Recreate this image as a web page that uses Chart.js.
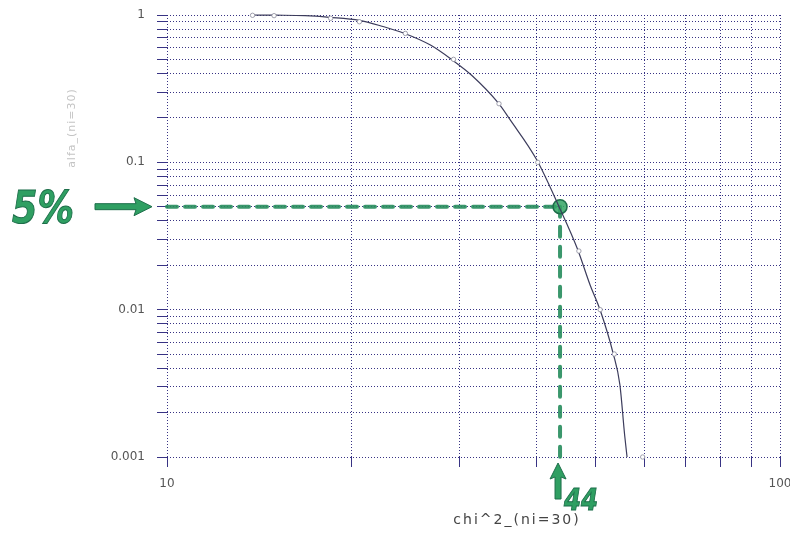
<!DOCTYPE html>
<html>
<head>
<meta charset="utf-8">
<script src="https://cdn.jsdelivr.net/npm/chart.js@4.4.1/dist/chart.umd.min.js"></script>
<style>
  html, body { margin: 0; padding: 0; background: #ffffff; }
  #wrap { width: 790px; height: 534px; }
</style>
</head>
<body>
<div id="wrap"><canvas id="c" width="790" height="534"></canvas></div>
<script>
// Upper-tail probability of chi-squared with 30 degrees of freedom (traced curve)
const curveChi   = [13.7, 15.0, 16.8, 18.4, 20.6, 22.5, 24.3, 26.9, 29.3, 31.4, 34.7, 36.3, 40.1, 43.6, 46.7, 49.0, 50.9, 53.4, 54.8, 55.8, 56.3];
const curveAlpha = [1.0, 0.997, 0.99, 0.965, 0.92, 0.835, 0.755, 0.625, 0.49, 0.39, 0.253, 0.194, 0.104, 0.05, 0.026, 0.0147, 0.0099, 0.0051, 0.0031, 0.0014, 0.001];

// Tabulated critical values (small circles)
const tableChi   = [13.79, 14.95, 18.49, 20.60, 24.48, 29.34, 34.80, 40.26, 46.98, 50.89, 53.67, 59.70];
const tableAlpha = [0.995, 0.99, 0.95, 0.90, 0.75, 0.50, 0.25, 0.10, 0.025, 0.01, 0.005, 0.001];

// Highlighted significance level and its critical value
const critAlpha = 0.05;
const critChi   = 43.77;

// Axis labels
const xTickLabels = [10, 100];
const yTickLabels = [1, 0.1, 0.01, 0.001];
const xTitle = 'chi^2_(ni=30)';
const yTitle = 'alfa_(ni=30)';

const GRID = 'rgba(45,40,125,0.95)';
const GREEN = '#2f9f62';
const GREEN_DARK = '#1d6e4a';

const pts = (xs, ys) => xs.map((v, i) => ({ x: v, y: ys[i] }));
const near = (v, list) => list.some(t => Math.abs(v - t) / t < 1e-6);

// keep only 1..9 x 10^n grid positions
const wholeDecadeSteps = (s) => {
  s.ticks = s.ticks.filter(t => {
    const e = Math.floor(Math.log10(t.value) + 1e-9);
    const m = t.value / Math.pow(10, e);
    return Math.abs(m - Math.round(m)) < 1e-6;
  });
};

// Hand-drawn style annotations outside the plot area
const annotate = {
  id: 'annotate',
  afterDraw(chart) {
    const { ctx, scales: { x, y }, chartArea } = chart;
    const py = y.getPixelForValue(critAlpha);
    const px = x.getPixelForValue(critChi);
    ctx.save();

    // "5%" and arrow towards the horizontal line
    const pct = Math.round(critAlpha * 100) + '%';
    ctx.font = 'bold italic 44px "DejaVu Sans"';
    const w5 = ctx.measureText(pct).width;
    ctx.save();
    ctx.translate(12, py + 16);
    ctx.scale(62 / w5, 1);
    ctx.fillStyle = GREEN;
    ctx.strokeStyle = GREEN_DARK;
    ctx.lineWidth = 1;
    ctx.fillText(pct, 0, 0);
    ctx.strokeText(pct, 0, 0);
    ctx.restore();

    ctx.fillStyle = GREEN;
    ctx.strokeStyle = GREEN_DARK;
    ctx.lineWidth = 1;
    ctx.beginPath();
    ctx.moveTo(95, py - 3);
    ctx.lineTo(136, py - 3);
    ctx.lineTo(134, py - 9);
    ctx.lineTo(chartArea.left - 15, py);
    ctx.lineTo(134, py + 9);
    ctx.lineTo(136, py + 3);
    ctx.lineTo(95, py + 3);
    ctx.closePath();
    ctx.fill();
    ctx.stroke();

    // upward arrow and rounded critical value
    const ax = px - 2;
    const top = chartArea.bottom + 6;
    ctx.beginPath();
    ctx.moveTo(ax - 3, 499);
    ctx.lineTo(ax - 3, top + 14);
    ctx.lineTo(ax - 8, top + 16);
    ctx.lineTo(ax, top);
    ctx.lineTo(ax + 8, top + 16);
    ctx.lineTo(ax + 3, top + 14);
    ctx.lineTo(ax + 3, 499);
    ctx.closePath();
    ctx.fill();
    ctx.stroke();

    const val = String(Math.round(critChi));
    ctx.font = 'bold italic 30px "DejaVu Sans"';
    const w44 = ctx.measureText(val).width;
    ctx.save();
    ctx.translate(ax + 6, 510);
    ctx.scale(34 / w44, 1);
    ctx.fillText(val, 0, 0);
    ctx.strokeText(val, 0, 0);
    ctx.restore();

    // axis titles
    ctx.fillStyle = '#444444';
    ctx.font = '14px "DejaVu Sans"';
    ctx.letterSpacing = '2px';
    ctx.textAlign = 'center';
    ctx.textBaseline = 'middle';
    ctx.fillText(xTitle, 517, 520);

    ctx.save();
    ctx.translate(72, 128);
    ctx.rotate(-Math.PI / 2);
    ctx.fillStyle = '#c4c4c4';
    ctx.font = '11px "DejaVu Sans"';
    ctx.letterSpacing = '1px';
    ctx.fillText(yTitle, 0, 0);
    ctx.restore();

    ctx.restore();
  }
};

new Chart(document.getElementById('c'), {
  type: 'scatter',
  data: {
    datasets: [
      {
        label: 'guide-h',
        data: pts([10, critChi], [critAlpha, critAlpha]),
        showLine: true,
        borderColor: 'rgba(38,140,92,0.9)',
        borderWidth: 4,
        borderDash: [10, 8],
        borderCapStyle: 'round',
        pointRadius: 0,
        clip: false,
        order: 3
      },
      {
        label: 'guide-v',
        data: pts([critChi, critChi], [critAlpha, 0.001]),
        showLine: true,
        borderColor: 'rgba(38,140,92,0.9)',
        borderWidth: 4,
        borderDash: [10, 10],
        borderCapStyle: 'round',
        pointRadius: 0,
        clip: false,
        order: 3
      },
      {
        label: 'crit',
        data: pts([critChi], [critAlpha]),
        pointRadius: 7,
        pointBackgroundColor: 'rgba(50,165,100,0.85)',
        pointBorderColor: GREEN_DARK,
        pointBorderWidth: 1.5,
        order: 2
      },
      {
        label: 'alfa',
        data: pts(curveChi, curveAlpha),
        showLine: true,
        borderColor: '#3c3c5c',
        borderWidth: 1.2,
        pointRadius: 0,
        cubicInterpolationMode: 'monotone',
        clip: false,
        order: 1
      },
      {
        label: 'table',
        data: pts(tableChi, tableAlpha),
        pointRadius: 2.2,
        pointBackgroundColor: '#ffffff',
        pointBorderColor: '#8a8a9a',
        pointBorderWidth: 0.8,
        clip: false,
        order: 0
      }
    ]
  },
  options: {
    responsive: false,
    animation: false,
    events: [],
    layout: { padding: { top: 15, right: 10, left: 0, bottom: 0 } },
    plugins: { legend: { display: false }, tooltip: { enabled: false } },
    scales: {
      x: {
        type: 'logarithmic',
        min: 10,
        max: 100,
        afterBuildTicks: wholeDecadeSteps,
        grid: { color: GRID, lineWidth: 1, tickLength: 10, tickColor: GRID },
        border: { display: false, dash: [1, 2] },
        ticks: {
          autoSkip: false,
          maxRotation: 0,
          padding: 10,
          color: '#555555',
          font: { family: 'DejaVu Sans', size: 12 },
          callback: (v) => near(v, xTickLabels) ? String(v) : ''
        },
        afterFit: (s) => { s.height = 77; s.paddingLeft = 0; s.paddingRight = 0; }
      },
      y: {
        type: 'logarithmic',
        min: 0.001,
        max: 1,
        afterBuildTicks: wholeDecadeSteps,
        grid: { color: GRID, lineWidth: 1, tickLength: 10, tickColor: GRID },
        border: { display: false, dash: [1, 2] },
        ticks: {
          autoSkip: false,
          padding: 12,
          color: '#555555',
          font: { family: 'DejaVu Sans', size: 12 },
          callback: (v) => near(v, yTickLabels) ? String(v) : ''
        },
        afterFit: (s) => { s.width = 167; s.paddingTop = 0; s.paddingBottom = 0; }
      }
    }
  },
  plugins: [annotate]
});
</script>
</body>
</html>
